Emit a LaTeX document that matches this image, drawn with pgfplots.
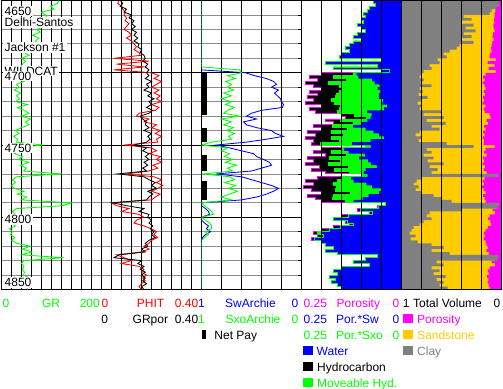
\documentclass[border=0pt]{standalone}
\usepackage{pgfplots}
\pgfplotsset{compat=1.18}
\usepackage{pgfplotstable}
\usepgfplotslibrary{fillbetween}
\usepackage{fontspec}
\setmainfont{Liberation Sans}
\definecolor{cgreen}{RGB}{0,255,0}
\definecolor{cred}{RGB}{255,0,0}
\definecolor{cblue}{RGB}{0,0,255}
\definecolor{cmag}{RGB}{255,0,255}
\definecolor{csand}{RGB}{255,204,0}
\definecolor{cclay}{RGB}{128,128,128}
\definecolor{cgrid}{RGB}{140,140,140}

\pgfplotstableread{
depth gr phit grpor sw sxo vcl phie
4650 115 0.070 0.075 1 1 0.97 0.050
4652 112 0.065 0.085 1 1 0.98 0.045
4654 98 0.080 0.075 1 1 0.95 0.060
4656 105 0.085 0.100 1 1 0.90 0.062
4658 80 0.095 0.090 1 1 0.88 0.070
4660 88 0.090 0.120 1 1 0.62 0.068
4662 92 0.100 0.110 1 1 0.70 0.075
4664 85 0.095 0.130 1 1 0.60 0.072
4666 95 0.110 0.120 1 1 0.72 0.082
4668 88 0.100 0.135 1 1 0.64 0.078
4670 70 0.090 0.120 1 1 0.74 0.070
4672 78 0.110 0.140 1 1 0.62 0.085
4674 62 0.120 0.130 1 1 0.70 0.090
4676 75 0.100 0.145 1 1 0.60 0.080
4678 68 0.120 0.130 1 1 0.72 0.092
4680 72 0.130 0.150 1 1 0.58 0.100
4682 60 0.140 0.145 1 1 0.55 0.105
4684 62 0.130 0.160 1 1 0.48 0.100
4686 45 0.150 0.155 1 1 0.42 0.115
4688 55 0.155 0.170 1 1 0.45 0.118
4690 40 0.050 0.175 1 1 0.36 0.060
4692 48 0.190 0.165 1 1 0.38 0.140
4694 42 0.060 0.185 1 1 0.28 0.070
4696 38 0.170 0.175 1 1 0.30 0.130
4698 45 0.050 0.190 1 0.62 0.22 0.060
4700 35 0.200 0.180 0.56 0.60 0.20 0.160
4702 40 0.230 0.190 0.47 0.74 0.18 0.185
4704 32 0.210 0.175 0.35 0.66 0.22 0.168
4706 45 0.240 0.200 0.28 0.76 0.19 0.190
4708 30 0.220 0.180 0.25 0.70 0.30 0.170
4710 35 0.200 0.190 0.30 0.74 0.18 0.160
4712 26 0.230 0.170 0.23 0.68 0.21 0.180
4714 38 0.210 0.200 0.27 0.78 0.17 0.165
4716 30 0.235 0.185 0.24 0.70 0.26 0.185
4718 36 0.220 0.210 0.21 0.80 0.19 0.175
4720 28 0.240 0.190 0.20 0.70 0.16 0.190
4722 52 0.200 0.200 0.18 0.76 0.20 0.160
4724 32 0.230 0.180 0.19 0.67 0.18 0.180
4726 45 0.215 0.205 0.40 0.74 0.40 0.170
4728 55 0.150 0.190 0.50 0.78 0.22 0.120
4730 40 0.140 0.155 0.55 0.62 0.42 0.110
4732 58 0.190 0.165 0.45 0.80 0.25 0.150
4734 48 0.170 0.180 0.58 0.70 0.44 0.135
4736 55 0.220 0.175 0.55 0.78 0.30 0.175
4738 40 0.200 0.190 0.45 0.68 0.38 0.160
4740 28 0.235 0.170 0.30 0.75 0.18 0.185
4742 35 0.215 0.200 0.26 0.67 0.14 0.170
4744 24 0.240 0.185 0.18 0.73 0.20 0.190
4746 32 0.220 0.195 0.35 0.70 0.17 0.175
4748 30 0.225 0.180 0.55 0.90 0.45 0.178
4750 82 0.090 0.130 0.85 1.00 0.72 0.070
4752 30 0.200 0.180 0.72 0.74 0.25 0.160
4754 36 0.220 0.165 0.60 0.80 0.30 0.175
4756 26 0.190 0.190 0.48 0.72 0.22 0.150
4758 42 0.235 0.175 0.45 0.77 0.32 0.185
4760 34 0.220 0.190 0.38 0.69 0.26 0.175
4762 55 0.240 0.170 0.32 0.76 0.42 0.190
4764 38 0.205 0.185 0.30 0.65 0.28 0.165
4766 50 0.225 0.165 0.40 0.74 0.36 0.178
4768 44 0.190 0.180 0.50 0.69 0.30 0.150
4770 120 0.100 0.065 0.85 0.98 0.97 0.080
4772 30 0.210 0.170 0.60 0.72 0.20 0.168
4774 22 0.240 0.190 0.50 0.67 0.15 0.190
4776 28 0.220 0.215 0.40 0.77 0.12 0.175
4778 20 0.245 0.200 0.30 0.66 0.17 0.195
4780 26 0.225 0.220 0.23 0.73 0.14 0.180
4782 45 0.200 0.185 0.28 0.64 0.20 0.160
4784 32 0.235 0.205 0.35 0.72 0.32 0.185
4786 50 0.215 0.190 0.45 0.80 0.40 0.170
4788 40 0.200 0.180 0.60 0.70 0.50 0.160
4790 140 0.040 0.045 1 1 0.97 0.030
4792 122 0.060 0.100 1 0.97 0.96 0.048
4794 30 0.110 0.170 0.96 0.93 0.60 0.088
4796 22 0.080 0.150 0.93 0.90 0.28 0.064
4798 28 0.150 0.190 0.92 0.88 0.25 0.120
4800 18 0.170 0.185 1 1 0.30 0.135
4802 25 0.140 0.200 1 0.96 0.22 0.112
4804 20 0.130 0.190 0.97 0.92 0.18 0.104
4806 28 0.170 0.205 0.93 0.90 0.12 0.136
4808 16 0.200 0.195 0.95 0.90 0.10 0.160
4810 22 0.220 0.210 0.91 0.96 0.08 0.176
4812 18 0.210 0.200 0.96 0.93 0.14 0.168
4814 26 0.225 0.215 0.99 0.97 0.09 0.180
4816 20 0.200 0.190 1 1 0.16 0.160
4818 30 0.190 0.175 1 1 0.30 0.152
4820 58 0.170 0.185 1 1 0.42 0.136
4822 42 0.190 0.160 1 1 0.30 0.152
4824 60 0.160 0.175 1 1 0.48 0.128
4826 40 0.060 0.070 1 1 0.97 0.048
4828 124 0.090 0.050 1 1 0.96 0.072
4830 45 0.120 0.160 1 1 0.35 0.096
4832 40 0.080 0.145 1 1 0.42 0.064
4834 45 0.150 0.170 1 1 0.30 0.120
4836 42 0.170 0.155 1 1 0.38 0.136
4838 46 0.160 0.175 1 1 0.32 0.128
4840 44 0.180 0.160 1 1 0.44 0.144
4842 55 0.165 0.175 1 1 0.35 0.132
4844 48 0.175 0.165 1 1 0.42 0.140
4846 58 0.160 0.180 1 1 0.38 0.128
4848 50 0.150 0.160 1 1 0.46 0.120
4850 52 0.160 0.170 1 1 0.45 0.128
}\logdata

\pgfplotsset{
 track/.style={
  width=100bp, height=289bp, scale only axis, anchor=north west,
  y dir=reverse, ymin=4650, ymax=4850,
  axis line style={black, line width=1.5bp},
  xtick=\empty, ytick=\empty, clip=true,
 },
 hgrid/.style={
  ytick={4660,4670,4680,4690,4710,4720,4730,4740,4760,4770,4780,4790,4810,4820,4830,4840},
  yticklabels={}, ymajorgrids, major grid style={cgrid, line width=0.8bp},
  extra y ticks={4700,4750,4800}, extra y tick labels={},
  extra y tick style={ymajorgrids=true, major grid style={black, line width=0.8bp}},
  major tick length=0pt,
 },
 vgrid/.style={extra x ticks={#1}, extra x tick labels={},
  extra x tick style={xmajorgrids=true, major grid style={black, line width=0.8bp}, major tick length=0pt}},
 logline/.style={sharp plot, line width=0.85bp, mark=none},
 stepline/.style={const plot mark right, line width=0.85bp, mark=none},
}
\tikzset{every node/.append style={font=\fontsize{12bp}{14bp}\selectfont}}

\begin{document}
\begin{tikzpicture}

% Track 1: GR
\begin{axis}[track, hgrid, vgrid={20,40,60,80,100,120,140,160,180}, at={(1.5bp,-0.5bp)}, xmin=0, xmax=200]
\addplot[logline, cgreen] table[x=gr, y=depth]{\logdata};
\end{axis}

% Track 2: PHIT / GRpor
\begin{axis}[track, hgrid, vgrid={0.04,0.08,0.12,0.16,0.2,0.24,0.28,0.32,0.36}, at={(101.5bp,-0.5bp)}, xmin=0, xmax=0.4]
\addplot[logline, cred] table[x=phit, y=depth]{\logdata};
\addplot[logline, black] table[x=grpor, y=depth]{\logdata};
\end{axis}

% Track 3: Sw / Sxo / net pay
\begin{axis}[track, hgrid, vgrid={0.2,0.4,0.6,0.8}, at={(201.5bp,-0.5bp)}, xmin=0, xmax=1, x dir=reverse]
\addplot[fill=black, draw=none] coordinates {(1,4700) (0.95,4700) (0.95,4729) (1,4729)};
\addplot[fill=black, draw=none] coordinates {(1,4738) (0.95,4738) (0.95,4748) (1,4748)};
\addplot[fill=black, draw=none] coordinates {(1,4757) (0.95,4757) (0.95,4768) (1,4768)};
\addplot[fill=black, draw=none] coordinates {(1,4775) (0.95,4775) (0.95,4788) (1,4788)};
\addplot[logline, cblue] table[x=sw, y=depth]{\logdata};
\addplot[logline, cgreen] table[x=sxo, y=depth]{\logdata};
\end{axis}

% Track 4: porosity volumes
\begin{axis}[track, at={(301.5bp,-0.5bp)}, xmin=0, xmax=0.25, x dir=reverse, axis on top,
  xtick={0.05,0.1,0.15,0.2}, xticklabels={}, xmajorgrids, major grid style={black, line width=0.8bp},
  ytick={4660,4670,...,4840}, yticklabels={}, ytick pos=left, tick align=outside,
  major tick length=4bp, xtick style={draw=none}, ytick style={black, line width=0.8bp}]
\addplot[draw=none, name path=zeroA] coordinates {(0,4650) (0,4850)};
\addplot[stepline, cmag, name path=phiA] table[x=phit, y=depth]{\logdata};
\addplot[stepline, draw=none, name path=pxoA] table[x expr=\thisrow{phit}*\thisrow{sxo}, y=depth]{\logdata};
\addplot[stepline, draw=none, name path=pswA] table[x expr=\thisrow{phit}*\thisrow{sw}, y=depth]{\logdata};
\addplot[black] fill between[of=phiA and zeroA];
\addplot[cgreen] fill between[of=pxoA and zeroA];
\addplot[cblue] fill between[of=pswA and zeroA];
\addplot[stepline, cgreen] table[x expr=\thisrow{phit}*\thisrow{sxo}, y=depth]{\logdata};
\end{axis}

% Track 5: total volume
\begin{axis}[track, at={(401.5bp,-0.5bp)}, xmin=0, xmax=1, x dir=reverse, axis on top,
  axis background/.style={fill=csand},
  xtick={0.2,0.4,0.6,0.8}, xticklabels={}, xmajorgrids, major grid style={black, line width=0.8bp},
  major tick length=0pt]
\addplot[draw=none, name path=zeroB] coordinates {(0,4650) (0,4850)};
\addplot[draw=none, name path=oneB] coordinates {(1,4650) (1,4850)};
\addplot[stepline, draw=none, name path=peB] table[x=phie, y=depth]{\logdata};
\addplot[stepline, draw=none, name path=sdB] table[x expr=1-\thisrow{vcl}, y=depth]{\logdata};
\addplot[cmag] fill between[of=peB and zeroB];
\addplot[cclay] fill between[of=sdB and oneB];
\end{axis}

\begin{scope}[x=1bp, y=-1bp]
% labels in track 1
\tikzset{lab/.style={anchor=base west, fill=white, inner xsep=1.5bp, inner ysep=1bp}}
\node[lab] at (3,15) {4650};
\node[lab] at (3,26.5) {Delhi-Santos};
\node[lab] at (3,51.5) {Jackson \#1};
\node[lab] at (3,75) {WILDCAT};
\node[lab] at (3,80) {4700};
\node[lab] at (3,152) {4750};
\node[lab] at (3,223.5) {4800};
\node[lab] at (3,286.5) {4850};

\tikzset{hw/.style={anchor=base west, inner sep=0pt}, he/.style={anchor=base east, inner sep=0pt}, hc/.style={anchor=base, inner sep=0pt}}
% row 1
\node[hw, text=cgreen] at (2.5,307) {0};
\node[hc, text=cgreen] at (51,307) {GR};
\node[he, text=cgreen] at (100,307) {200};
\node[hw, text=cred] at (101.5,307) {0};
\node[hc, text=cred] at (150.5,307) {PHIT};
\node[he, text=cred] at (198.5,307) {0.40};
\node[hw, text=cblue] at (198,307) {1};
\node[hc, text=cblue] at (250.5,307) {SwArchie};
\node[he, text=cblue] at (298.5,307) {0};
\node[hw, text=cmag] at (303.5,307) {0.25};
\node[hw, text=cmag] at (336.5,307) {Porosity};
\node[he, text=cmag] at (399.5,307) {0};
\node[hw, text=black] at (402.7,307) {1};
\node[hw, text=black] at (413,307) {Total Volume};
\node[he, text=black] at (500.5,307) {0};
% row 2
\node[hw, text=black] at (101.3,323) {0};
\node[hw, text=black] at (132.5,323) {GRpor};
\node[he, text=black] at (198.5,323) {0.40};
\node[hw, text=cgreen] at (198,323) {1};
\node[hw, text=cgreen] at (225.5,323) {SxoArchie};
\node[he, text=cgreen] at (298.5,323) {0};
\node[hw, text=cblue] at (303.5,323) {0.25};
\node[hw, text=cblue] at (336,323) {Por.*Sw};
\node[he, text=cblue] at (399.5,323) {0};
\node[hw, text=cmag] at (403,323) {\rule{10bp}{9bp}\hspace{4bp}Porosity};
% row 3
\node[hw, text=black] at (201.7,339) {\rule{4.6bp}{9bp}\hspace{8bp}Net Pay};
\node[hw, text=cgreen] at (303.5,339) {0.25};
\node[hw, text=cgreen] at (336,339) {Por.*Sxo};
\node[he, text=cgreen] at (399.5,339) {0};
\node[hw, text=csand] at (403,339) {\rule{10bp}{9bp}\hspace{4bp}Sandstone};
% row 4
\node[hw, text=cblue] at (303,355) {\rule{10bp}{9bp}\hspace{3.5bp}Water};
\node[hw, text=cclay] at (403,355) {\rule{10bp}{9bp}\hspace{4bp}Clay};
% row 5
\node[hw, text=black] at (303,371) {\rule{10bp}{9bp}\hspace{4bp}Hydrocarbon};
% row 6
\node[hw, text=cgreen] at (303,387) {\rule{10bp}{9bp}\hspace{4bp}Moveable Hyd.};
\end{scope}
\pgfresetboundingbox
\path[use as bounding box] (0,0) rectangle (503bp,-389bp);
\end{tikzpicture}
\end{document}
